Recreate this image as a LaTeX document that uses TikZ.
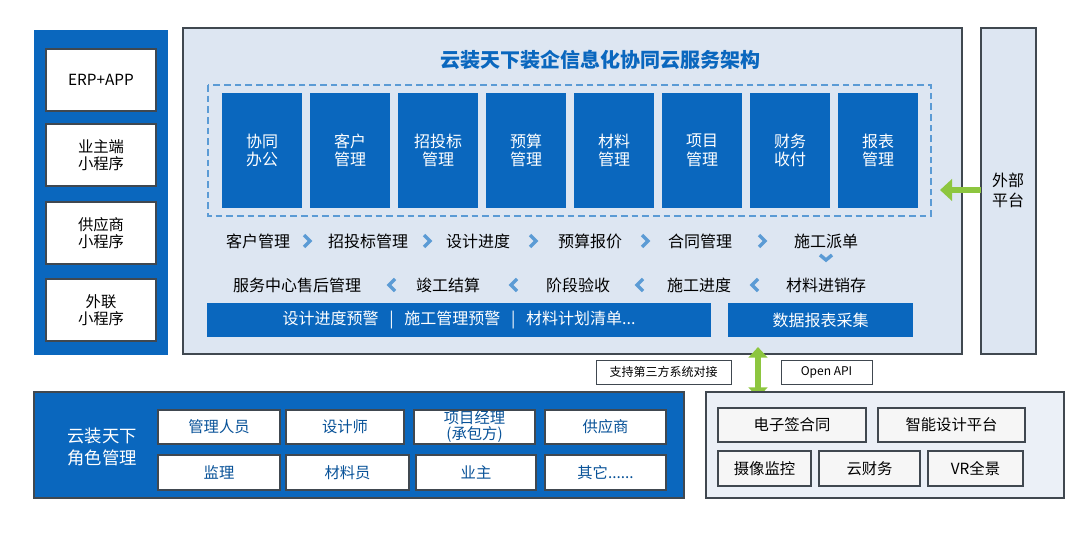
\documentclass[tikz,border=0pt]{standalone}
\usepackage{fontspec}
\setmainfont{Noto Sans CJK SC}
\usetikzlibrary{arrows.meta}
\definecolor{dblue}{HTML}{0A67BE}
\definecolor{lightbg}{HTML}{DDE6F2}
\definecolor{chev}{HTML}{5B9BD5}
\definecolor{grn}{HTML}{8DC63F}
\definecolor{edge}{HTML}{404850}
\tikzset{
 wbox/.style={draw=edge,fill=white,line width=1pt,font=\fontsize{11.5}{13}\selectfont,align=center,inner sep=0pt},
 mod/.style={fill=dblue,text=white,font=\fontsize{12}{14}\selectfont,align=center,inner sep=0pt},
 flow/.style={font=\fontsize{12}{14}\selectfont,inner sep=0pt},
 chv/.style={draw=chev,line width=2.6pt},
 gbox/.style={draw=edge,fill=white!93!gray,line width=0.8pt,font=\fontsize{11.5}{13}\selectfont,inner sep=0pt},
 tag/.style={draw=edge,fill=white,line width=0.6pt,font=\fontsize{9}{11}\selectfont,inner sep=0pt},
}
\newcommand{\rbox}[5][]{\node[#1,minimum width={(#4-#2)*0.75pt},minimum height={(#5-#3)*0.75pt}] at ({(#2+#4)/2},{(#3+#5)/2})}
\begin{document}
\begin{tikzpicture}[x=0.75pt,y=-0.75pt]
\useasboundingbox (0,0) rectangle (1080,535);
% left column
\fill[dblue] (34,30) rectangle (168,355);
\rbox[wbox]{46}{49}{156}{111} (l1) {ERP+APP};
\rbox[wbox]{46}{124}{156}{186} (l2) {业主端\\小程序};
\rbox[wbox]{46}{202}{156}{264} (l3) {供应商\\小程序};
\rbox[wbox]{46}{279}{156}{341} (l4) {外联\\小程序};
% main
\draw[fill=lightbg,draw=edge,line width=1pt] (183,28) rectangle (962,354);
\node[text=dblue,font=\fontsize{15}{17}\selectfont\bfseries] (title) at (600,60) {云装天下装企信息化协同云服务架构};
\draw[chev,line width=1.3pt,dash pattern=on 5pt off 3pt] (208,85) rectangle (931,216);
\foreach \x/\t [count=\i] in {222/协同\\办公,310/客户\\管理,398/招投标\\管理,486/预算\\管理,574/材料\\管理,662/项目\\管理,750/财务\\收付,838/报表\\管理}{
 \rbox[mod]{\x}{93}{\x+80}{208} (m\i) {\t};
}
% flow row 1
\foreach \x/\t [count=\i] in {258/客户管理,368/招投标管理,478/设计进度,590/预算报价,700/合同管理,826/施工派单}{
 \node[flow] (f\i) at (\x,241) {\t};}
\foreach \x in {307,427,533,645,762}{\draw[chv] (\x-3,235)--(\x+3,241)--(\x-3,247);}
\draw[chv] (820,255)--(826,260)--(832,255);
\foreach \x/\t [count=\i] in {297/服务中心售后管理,448/竣工结算,578/阶段验收,699/施工进度,826/材料进销存}{
 \node[flow] (g\i) at (\x,285) {\t};}
\foreach \x in {392,514,640,755}{\draw[chv] (\x+3,279)--(\x-3,285)--(\x+3,291);}
\rbox[mod]{207}{303}{711}{337} (bar1) {设计进度预警 \ \ | \ \ 施工管理预警 \ \ | \ \ 材料计划清单...};
\rbox[mod]{728}{303}{913}{337} (bar2) {数据报表采集};
% external
\draw[fill=lightbg,draw=edge,line width=0.8pt] (981,28) rectangle (1036,354);
\node[font=\fontsize{12}{15}\selectfont,align=center] (ext) at (1008,190) {外部\\平台};
\coordinate (ea) at (981,190); \coordinate (eb) at (940,190);
\draw[grn,line width=5pt,-{Triangle[length=9pt,width=16pt]}] (ea)--(eb);
% vertical arrow
\coordinate (va) at (758,398); \coordinate (vb) at (758,347);
\draw[grn,line width=5pt,{Triangle[length=8pt,width=14pt]}-{Triangle[length=8pt,width=14pt]}] (va)--(vb);
\rbox[tag]{596}{360}{731}{384} (t1) {支持第三方系统对接};
\rbox[tag]{781}{360}{872}{384} (t2) {Open API};
% bottom left
\fill[dblue] (34,392) rectangle (684,498);
\draw[edge,line width=0.8pt] (34,392) rectangle (684,498);
\node[text=white,font=\fontsize{13}{16}\selectfont,align=center] (role) at (102,447) {云装天下\\角色管理};
\tikzset{rb/.style={wbox,text=dblue!80!black,font=\fontsize{11.5}{12}\selectfont}}
\rbox[rb]{158}{410}{280}{444} (r1) {管理人员};
\rbox[rb]{286}{410}{404}{444} (r2) {设计师};
\rbox[rb]{414}{410}{535}{444} (r3) {项目经理\\(承包方)};
\rbox[rb]{545}{410}{666}{444} (r4) {供应商};
\rbox[rb]{158}{455}{280}{490} (r5) {监理};
\rbox[rb]{286}{455}{409}{490} (r6) {材料员};
\rbox[rb]{416}{455}{536}{490} (r7) {业主};
\rbox[rb]{545}{455}{666}{490} (r8) {其它......};
% bottom right
\draw[fill=lightbg!60!white,draw=edge,line width=0.8pt] (706,392) rectangle (1064,498);
\rbox[gbox]{718}{408}{866}{442} (p1) {电子签合同};
\rbox[gbox]{878}{408}{1025}{442} (p2) {智能设计平台};
\rbox[gbox]{718}{451}{811}{486} (p3) {摄像监控};
\rbox[gbox]{819}{451}{920}{486} (p4) {云财务};
\rbox[gbox]{928}{451}{1023}{486} (p5) {VR全景};
\end{tikzpicture}
\end{document}
